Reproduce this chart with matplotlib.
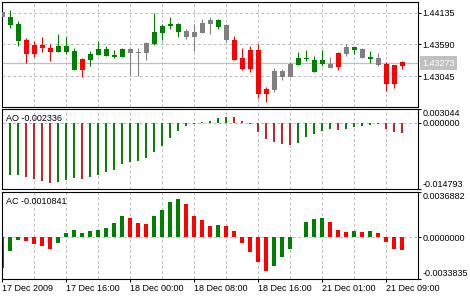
import matplotlib
matplotlib.use("Agg")
import matplotlib.pyplot as plt
import numpy as np

# H1 candles (body edges and wick ends, price units)
body_top = [1.44144, 1.44063, 1.43938, 1.43664, 1.43584, 1.43584, 1.43532, 1.43561, 1.43561, 1.43481,
            1.43339, 1.43424, 1.43510, 1.43510, 1.43412, 1.43510, 1.43510, 1.43459, 1.43618, 1.43801,
            1.43909, 1.43938, 1.43938, 1.43818, 1.43801, 1.43955, 1.44007, 1.44007, 1.43926, 1.43664,
            1.43356, 1.43493, 1.43493, 1.42825, 1.43133, 1.43133, 1.43253, 1.43356, 1.43356, 1.43322,
            1.43322, 1.43253, 1.43442, 1.43544, 1.43549, 1.43510, 1.43378, 1.43351, 1.43253, 1.43236,
            1.43293]
body_bottom = [1.44053, 1.43926, 1.43652, 1.43419, 1.43424, 1.43532, 1.43459, 1.43459, 1.43459, 1.43151,
               1.43151, 1.43322, 1.43412, 1.43395, 1.43368, 1.43378, 1.43447, 1.43436, 1.43447, 1.43590,
               1.43789, 1.43909, 1.43801, 1.43721, 1.43721, 1.43789, 1.43938, 1.43892, 1.43664, 1.43327,
               1.43168, 1.43168, 1.42745, 1.42745, 1.42813, 1.43036, 1.43031, 1.43241, 1.43334, 1.43121,
               1.43258, 1.43190, 1.43197, 1.43424, 1.43498, 1.43361, 1.43339, 1.43236, 1.42916, 1.42916,
               1.43224]
high = [1.44144, 1.44178, 1.43995, 1.43698, 1.43642, 1.43721, 1.43590, 1.43772, 1.43716, 1.43522,
        1.43361, 1.43476, 1.43647, 1.43556, 1.43493, 1.43522, 1.43522, 1.43527, 1.43635, 1.44132,
        1.43938, 1.44058, 1.43950, 1.43858, 1.43938, 1.44024, 1.44058, 1.44024, 1.43938, 1.43733,
        1.43527, 1.43561, 1.43596, 1.42860, 1.43180, 1.43168, 1.43282, 1.43459, 1.43493, 1.43395,
        1.43493, 1.43378, 1.43454, 1.43596, 1.43549, 1.43522, 1.43476, 1.43436, 1.43288, 1.43236,
        1.43305]
low = [1.44053, 1.43870, 1.43567, 1.43276, 1.43378, 1.43464, 1.43305, 1.43459, 1.43424, 1.43151,
       1.43031, 1.43219, 1.43412, 1.43395, 1.43361, 1.43368, 1.43060, 1.43048, 1.43322, 1.43579,
       1.43664, 1.43858, 1.43721, 1.43686, 1.43476, 1.43784, 1.43772, 1.43858, 1.43635, 1.43327,
       1.43151, 1.43121, 1.42666, 1.42608, 1.42779, 1.42979, 1.43031, 1.43241, 1.43305, 1.43121,
       1.43224, 1.43190, 1.43151, 1.43395, 1.43424, 1.43361, 1.43276, 1.43224, 1.42796, 1.42842,
       1.43173]
# trading zone of each bar: g = AO and AC rising, r = both falling, n = mixed
zone = list("n" "gg" "rrrr" "ggg" "r" "ggggg" "nnn" "gggg" "nnnn" "g" "n"
            "rrrrr" "nnn" "gggg" "n" "r" "n" "g" "n" "g" "n" "rrr")

ao = [np.nan, -0.01170, -0.01165, -0.01198, -0.01243, -0.01294, -0.01334, -0.01325, -0.01268, -0.01227,
      -0.01243, -0.01198, -0.01161, -0.01100, -0.01042, -0.00908, -0.00864, -0.00841, -0.00775, -0.00648,
      -0.00507, -0.00336, -0.00172, -0.00061, -0.00032, 0.00014, 0.00037, 0.00104, 0.00140, 0.00133,
      0.00050, -0.00023, -0.00195, -0.00351, -0.00432, -0.00462, -0.00485, -0.00440, -0.00307, -0.00240,
      -0.00172, -0.00128, -0.00150, -0.00128, -0.00083, -0.00075, -0.00038, -0.00023, -0.00135, -0.00195,
      -0.002336]
ao_dir = list("r" "gg" "rrrr" "ggg" "r" + "g" * 18 + "r" * 8 + "ggggg" "r" "ggggg" "rrr")

ac = [-0.00256, -0.00112, -0.00020, -0.00027, -0.00055, -0.00071, -0.00096, -0.00047, 0.00035, 0.00057,
      0.00033, 0.00049, 0.00057, 0.00074, 0.00115, 0.00172, 0.00156, 0.00115, 0.00112, 0.00172,
      0.00221, 0.00286, 0.00311, 0.00270, 0.00172, 0.00139, 0.00090, 0.00098, 0.00095, 0.00049,
      -0.00047, -0.00123, -0.00205, -0.00276, -0.00237, -0.00166, -0.00096, 0.00000, 0.00123, 0.00147,
      0.00156, 0.00123, 0.00057, 0.00041, 0.00049, 0.00041, 0.00049, 0.00033, -0.00035, -0.00096,
      -0.0010841]
ac_dir = list("ggg" "rrrr" + "g" * 9 + "rrr" "gggg" "rrrr" "g" + "r" * 6 + "g" * 7 + "rrr" "g" "r" "g" "rrrr")

time_labels = ["17 Dec 2009", "17 Dec 16:00", "18 Dec 00:00", "18 Dec 08:00",
               "18 Dec 16:00", "21 Dec 01:00", "21 Dec 09:00"]
price_ticks = [1.44135, 1.43590, 1.43045]
last_price = 1.43273
price_range = (1.425148, 1.443125)
ao_range = (-0.014793, 0.003044)
ac_range = (-0.0033835, 0.0036882)

ZONE_COLORS = {"g": "#008000", "r": "#ff0000", "n": "#808080"}
AO_COLORS = {"g": "#0a7f0a", "r": "#d42020"}
AC_COLORS = {"g": "#008000", "r": "#ff0000"}
GRID = "#c0c0c0"
DASH = (0, (2.2, 1.6))
FS = 6.5

plt.rcParams["font.family"] = ["Liberation Sans", "DejaVu Sans"]
plt.rcParams["lines.scale_dashes"] = False

W, H = 470, 300
fig = plt.figure(figsize=(W / 100, H / 100), dpi=100)
fig.patch.set_facecolor("white")


def px_axes(x0, y0, x1, y1):
    return fig.add_axes([x0 / W, 1 - y1 / H, (x1 - x0) / W, (y1 - y0) / H])


ax1 = px_axes(2.3, 2.3, 417.7, 107.3)
ax2 = px_axes(2.3, 109.3, 417.7, 189.3)
ax3 = px_axes(2.3, 192.3, 417.7, 278.5)

n = len(body_top)
x = np.arange(n)

for ax in (ax1, ax2, ax3):
    ax.set_xlim(0, n + 0.92)
    for v in range(4, n, 4):
        ax.axvline(v, color=GRID, lw=0.72, ls=DASH, zorder=0)
    for s in ax.spines.values():
        s.set_color("black")
        s.set_linewidth(0.8)
    ax.yaxis.tick_right()
    ax.tick_params(axis="y", direction="out", length=2.2, width=0.72, pad=1.2,
                   labelsize=FS, colors="black")
    ax.tick_params(axis="x", bottom=False, labelbottom=False)

# price panel
cols = [ZONE_COLORS[z] for z in zone]
for p in price_ticks:
    ax1.axhline(p, color=GRID, lw=0.72, ls=DASH, zorder=0)
ax1.axhline(last_price, color=GRID, lw=0.9, zorder=1)
ax1.vlines(x, low, high, colors=cols, lw=0.8, zorder=2)
ax1.bar(x, np.array(body_top) - np.array(body_bottom), bottom=body_bottom,
        width=0.625, color=cols, lw=0, zorder=3)
ax1.set_ylim(*price_range)
ax1.set_yticks(price_ticks)
ax1.set_yticklabels([f"{p:.5f}" for p in price_ticks])
ax1.annotate(f"{last_price:.5f}", xy=(1, last_price), xycoords=("axes fraction", "data"),
             xytext=(3.6, 0), textcoords="offset points", ha="left", va="center",
             fontsize=FS, color="white", annotation_clip=False,
             bbox=dict(boxstyle="square,pad=0.25", fc="#c0c0c0", ec="none"))

# Awesome Oscillator
ax2.axhline(0, color=GRID, lw=0.72, ls=DASH, zorder=0)
ax2.bar(x, ao, width=0.25, color=[AO_COLORS[d] for d in ao_dir], lw=0, zorder=2)
ax2.set_ylim(*ao_range)
ao_ticks = [ao_range[0], 0.0, ao_range[1]]
ax2.set_yticks(ao_ticks)
ax2.set_yticklabels([f"{v:.6f}" for v in ao_ticks])
ax2.annotate(f"AO {ao[-1]:.6f}", xy=(0, 1), xycoords="axes fraction", xytext=(2.7, -6.5),
             textcoords="offset points", ha="left", va="center", fontsize=FS)

# Accelerator Oscillator
ax3.axhline(0, color=GRID, lw=0.72, ls=DASH, zorder=0)
ax3.bar(x, ac, width=0.5, color=[AC_COLORS[d] for d in ac_dir], lw=0, zorder=2)
ax3.set_ylim(*ac_range)
ac_ticks = [ac_range[0], 0.0, ac_range[1]]
ax3.set_yticks(ac_ticks)
ax3.set_yticklabels([f"{v:.7f}" for v in ac_ticks])
ax3.annotate(f"AC {ac[-1]:.7f}", xy=(0, 1), xycoords="axes fraction", xytext=(2.7, -6.8),
             textcoords="offset points", ha="left", va="center", fontsize=FS)

for ax in (ax2, ax3):
    labels = ax.get_yticklabels()
    labels[0].set_va("bottom")
    labels[-1].set_va("top")

ax3.set_xticks(np.arange(0, n, 8))
ax3.set_xticklabels(time_labels, ha="left")
ax3.tick_params(axis="x", bottom=True, labelbottom=True, direction="out", length=2.4,
                width=0.72, pad=1.5, labelsize=FS, colors="black")

fig.savefig("out.png", dpi=100, facecolor="white")
